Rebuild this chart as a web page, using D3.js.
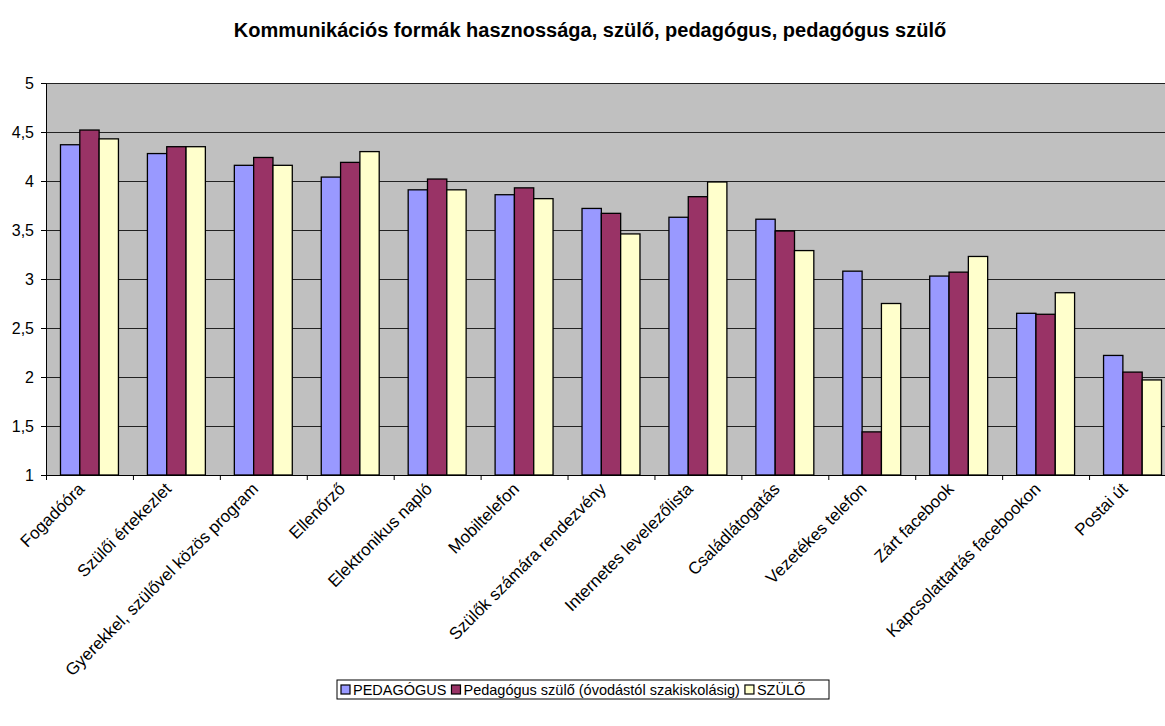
<!DOCTYPE html>
<html>
<head>
<meta charset="utf-8">
<script src="https://cdn.jsdelivr.net/npm/d3@7"></script>
<style>
  body { margin: 0; background: #fff; }
  svg { display: block; font-family: Arial, "Liberation Sans", sans-serif; }
</style>
</head>
<body>
<svg id="chart" width="1165" height="726"></svg>
<script>
const categories = ["Fogadóóra", "Szülői értekezlet", "Gyerekkel, szülővel közös program", "Ellenőrző",
    "Elektronikus napló", "Mobiltelefon", "Szülők számára rendezvény", "Internetes levelezőlista",
    "Családlátogatás", "Vezetékes telefon", "Zárt facebook", "Kapcsolattartás facebookon", "Postai út"];
const seriesNames = ["PEDAGÓGUS", "Pedagógus szülő (óvodástól szakiskolásig)", "SZÜLŐ"];
const pedagogus = [4.37, 4.28, 4.16, 4.04, 3.91, 3.86, 3.72, 3.63, 3.61, 3.08, 3.03, 2.65, 2.22];
const pedagogusSzulo = [4.52, 4.35, 4.24, 4.19, 4.02, 3.93, 3.67, 3.84, 3.49, 1.44, 3.07, 2.64, 2.05];
const szulo = [4.43, 4.35, 4.16, 4.30, 3.91, 3.82, 3.46, 3.99, 3.29, 2.75, 3.23, 2.86, 1.97];
const yTicks = [1, 1.5, 2, 2.5, 3, 3.5, 4, 4.5, 5];
const colors = ["#9999FF", "#993366", "#FFFFCC"];

const svg = d3.select("#chart");
const margin = {top: 83, left: 46, bottom: 251};
const plotW = 1130, plotH = 726 - margin.top - margin.bottom;

const series = [pedagogus, pedagogusSzulo, szulo];

const x = d3.scaleBand().domain(categories).range([0, plotW]).paddingInner(0.3333).paddingOuter(0.1667);
const x1 = d3.scaleBand().domain(d3.range(3)).range([0, x.bandwidth()]);
const y = d3.scaleLinear().domain([1, 5]).range([plotH, 0]);

svg.append("text")
    .attr("x", 590).attr("y", 37)
    .attr("text-anchor", "middle")
    .attr("font-size", 20).attr("font-weight", "bold")
    .text("Kommunikációs formák hasznossága, szülő, pedagógus, pedagógus szülő");

const g = svg.append("g").attr("transform", `translate(${margin.left},${margin.top})`);

g.append("rect").attr("width", plotW).attr("height", plotH).attr("fill", "#C0C0C0");

// gridlines
g.append("g").selectAll("line").data(yTicks.slice(1)).join("line")
    .attr("x1", 0).attr("x2", plotW)
    .attr("y1", d => y(d) + 0.5).attr("y2", d => y(d) + 0.5)
    .attr("stroke", "#222").attr("stroke-width", 1);

// bars
const groups = g.append("g").selectAll("g").data(categories).join("g")
    .attr("transform", d => `translate(${x(d)},0)`);
groups.selectAll("rect").data((d, i) => series.map((s, k) => ({k: k, v: s[i]}))).join("rect")
    .attr("x", d => x1(d.k))
    .attr("y", d => y(d.v))
    .attr("width", x1.bandwidth())
    .attr("height", d => plotH - y(d.v))
    .attr("fill", d => colors[d.k])
    .attr("stroke", "#000").attr("stroke-width", 1.3);

// y axis
const yAxis = g.append("g")
    .call(d3.axisLeft(y).tickValues(yTicks).tickSize(5).tickPadding(7).tickSizeOuter(0)
        .tickFormat(d => String(d).replace(".", ",")));
yAxis.select(".domain").attr("stroke", "#000");
yAxis.selectAll("text").attr("font-size", 16).attr("fill", "#000").attr("font-family", "Arial, 'Liberation Sans', sans-serif");

// x axis
const xAxisG = g.append("g").attr("transform", `translate(0,${plotH})`);
xAxisG.append("line").attr("x1", 0).attr("x2", plotW).attr("y1", 0.5).attr("y2", 0.5).attr("stroke", "#000");
const step = x.step();
xAxisG.selectAll(".tk").data(d3.range(categories.length + 1)).join("line")
    .attr("class", "tk")
    .attr("x1", d => d * step + 0.5).attr("x2", d => d * step + 0.5)
    .attr("y1", 0).attr("y2", 5).attr("stroke", "#000");
xAxisG.selectAll(".lbl").data(categories).join("text")
    .attr("class", "lbl")
    .attr("transform", d => `translate(${x(d) + x.bandwidth() / 2 - 4},${15}) rotate(-45)`)
    .attr("text-anchor", "end")
    .attr("font-size", 17)
    .text(d => d);

// legend
const lg = svg.append("g").attr("transform", "translate(337,680)");
lg.append("rect").attr("width", 492).attr("height", 19).attr("fill", "#fff").attr("stroke", "#000");
let lx = 4;
seriesNames.forEach((name, i) => {
    lg.append("rect").attr("x", lx).attr("y", 5).attr("width", 9).attr("height", 9)
        .attr("fill", colors[i]).attr("stroke", "#000").attr("stroke-width", 1.2);
    const t = lg.append("text").attr("x", lx + 12).attr("y", 15).attr("font-size", 14.5).text(name);
    lx += 12 + t.node().getComputedTextLength() + 5;
});
</script>
</body>
</html>
